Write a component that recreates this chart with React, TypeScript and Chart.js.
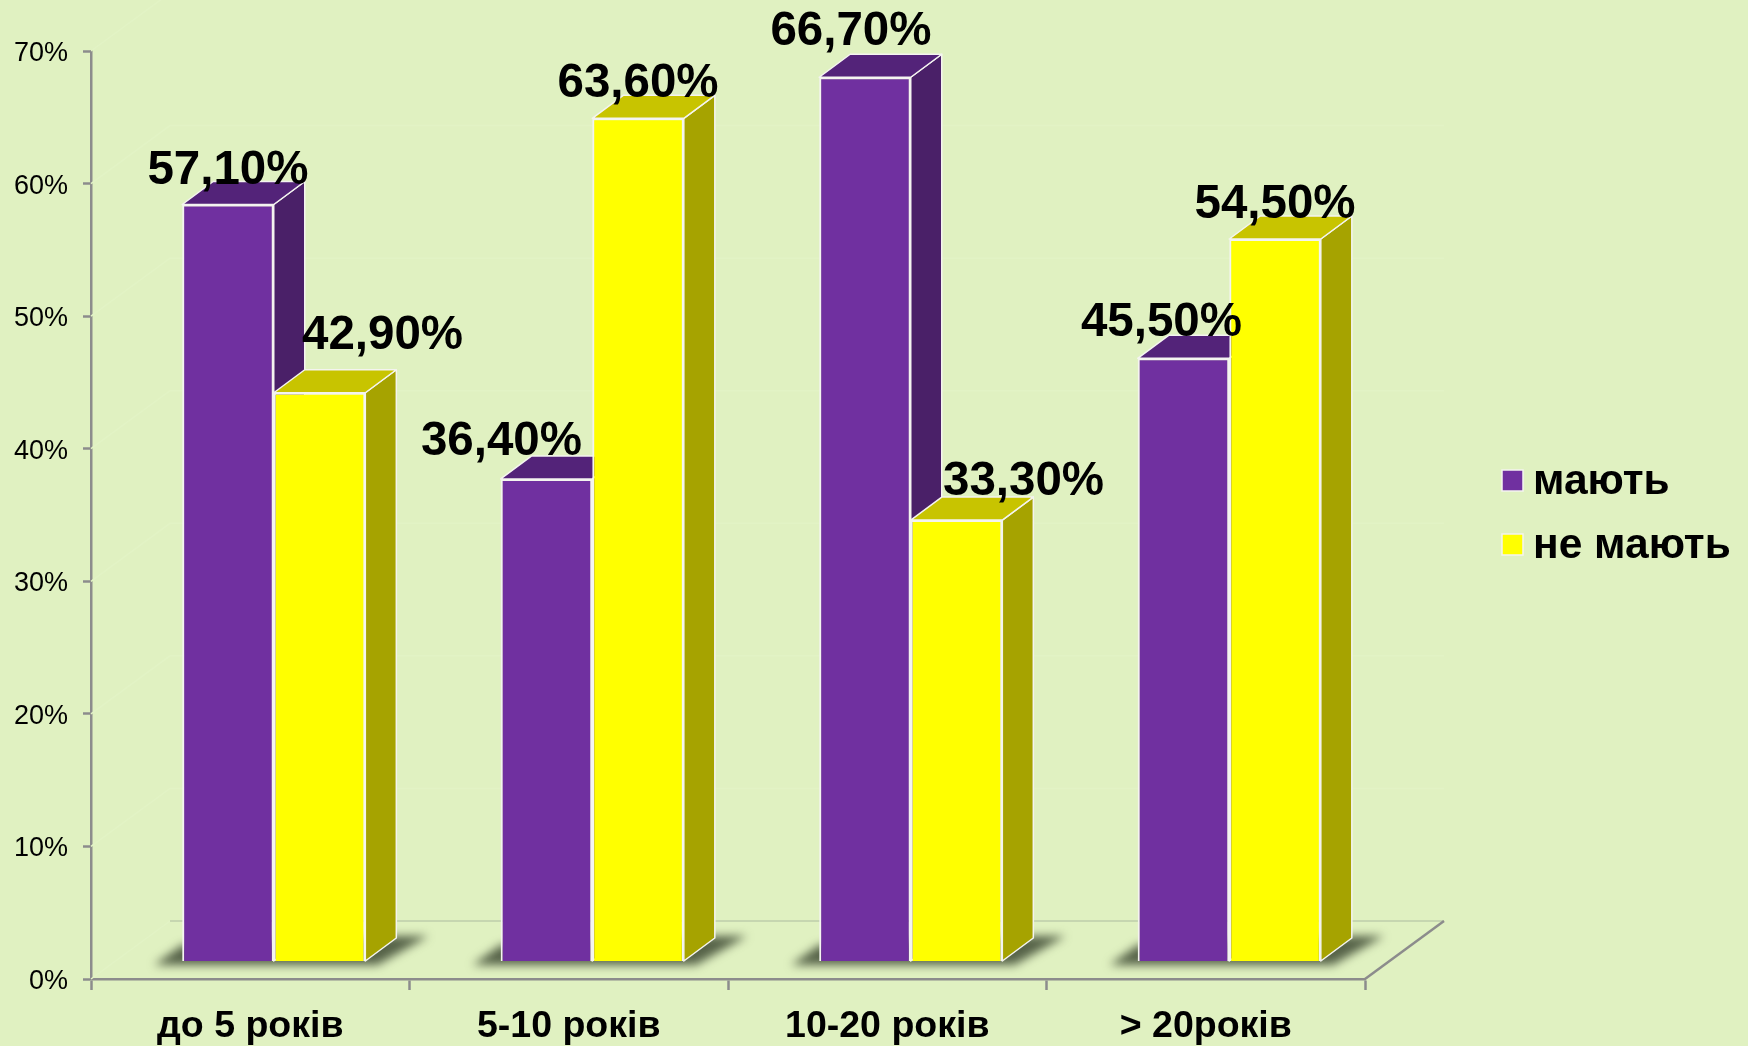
import React, { useEffect, useRef } from "react";
import { Chart, registerables } from "chart.js";

Chart.register(...registerables);

const categories = ["до 5 років", "5-10 років", "10-20 років", "> 20років"];
const seriesNames = ["мають", "не мають"];
const haveValues = [57.1, 36.4, 66.7, 45.5];
const haveNotValues = [42.9, 63.6, 33.3, 54.5];

const FONT = '"Liberation Sans", Arial, sans-serif';
const BG = "#e0f1c1";
const AXIS = "#8c8c8c";
const EDGE = "#f4f4f0";
const FRONT = ["#7030a0", "#ffff00"];
const TOP = ["#532379", "#c8c400"];
const SIDE = ["#4a2068", "#a6a300"];

// projection of the pseudo-3D box
const SHIFT_X = 23.5;
const SHIFT_Y = -17.5;
const DEPTH_X = 31;
const DEPTH_Y = -23;
const FLOOR_X = 79;
const FLOOR_Y = -58;

// hand-placed value label offsets in the source chart [dx from bar centre, dy from bar top]
const labelOffsets = [
  [[0, -21], [-45, -24], [-14, -32], [-22, -22]],
  [[63, -44], [0, -21], [67, -25], [0, -21]],
];

const pseudo3d = {
  id: "pseudo3d",
  beforeDatasetsDraw(chart: any) {
    const { ctx, chartArea: a, scales } = chart;
    ctx.save();

    // walls: faint grid
    ctx.strokeStyle = "#e2f3c5";
    ctx.lineWidth = 1.5;
    scales.y.ticks.forEach((t: any) => {
      const y = scales.y.getPixelForValue(t.value);
      ctx.beginPath();
      ctx.moveTo(a.left, y);
      ctx.lineTo(a.left + FLOOR_X, y + FLOOR_Y);
      if (t.value > 0) ctx.lineTo(a.right + FLOOR_X, y + FLOOR_Y);
      ctx.stroke();
    });

    // floor
    ctx.strokeStyle = "#c6d6b0";
    ctx.lineWidth = 2;
    ctx.beginPath();
    ctx.moveTo(a.left + FLOOR_X, a.bottom + FLOOR_Y);
    ctx.lineTo(a.right + FLOOR_X, a.bottom + FLOOR_Y);
    ctx.stroke();
    ctx.strokeStyle = AXIS;
    ctx.lineWidth = 2.5;
    ctx.beginPath();
    ctx.moveTo(a.right, a.bottom);
    ctx.lineTo(a.right + FLOOR_X, a.bottom + FLOOR_Y);
    ctx.stroke();

    ctx.translate(SHIFT_X, SHIFT_Y);

    // floor shadows
    const m0 = chart.getDatasetMeta(0).data;
    const m1 = chart.getDatasetMeta(1).data;
    m0.forEach((b0: any, i: number) => {
      const b1 = m1[i];
      const l = b0.x - b0.width / 2;
      const r = b1.x + b1.width / 2;
      const y = b0.base;
      ctx.save();
      ctx.filter = "blur(5px)";
      ctx.fillStyle = "rgba(62,74,52,0.85)";
      ctx.beginPath();
      ctx.moveTo(l - 28, y + 4);
      ctx.lineTo(l, y - 16);
      ctx.lineTo(r + DEPTH_X, y + DEPTH_Y - 2);
      ctx.lineTo(r + DEPTH_X + 32, y + DEPTH_Y - 2);
      ctx.lineTo(r + 12, y + 4);
      ctx.closePath();
      ctx.fill();
      ctx.restore();
    });

    // sides and tops, back to front
    [m0, m1].forEach((meta: any[], d: number) => {
      meta.forEach((b: any) => {
        const l = b.x - b.width / 2;
        const r = b.x + b.width / 2;
        ctx.lineWidth = 1.5;
        ctx.strokeStyle = EDGE;
        ctx.lineJoin = "round";
        ctx.fillStyle = SIDE[d];
        ctx.beginPath();
        ctx.moveTo(r, b.y);
        ctx.lineTo(r + DEPTH_X, b.y + DEPTH_Y);
        ctx.lineTo(r + DEPTH_X, b.base + DEPTH_Y);
        ctx.lineTo(r, b.base);
        ctx.closePath();
        ctx.fill();
        ctx.stroke();
        ctx.fillStyle = TOP[d];
        ctx.beginPath();
        ctx.moveTo(l, b.y);
        ctx.lineTo(l + DEPTH_X, b.y + DEPTH_Y);
        ctx.lineTo(r + DEPTH_X, b.y + DEPTH_Y);
        ctx.lineTo(r, b.y);
        ctx.closePath();
        ctx.fill();
        ctx.stroke();
      });
    });
  },
  afterDatasetsDraw(chart: any) {
    const { ctx } = chart;
    ctx.restore();
    ctx.save();

    // value labels
    ctx.fillStyle = "#000";
    ctx.font = `bold 47.5px ${FONT}`;
    ctx.textAlign = "center";
    ctx.textBaseline = "alphabetic";
    chart.data.datasets.forEach((ds: any, d: number) => {
      chart.getDatasetMeta(d).data.forEach((b: any, i: number) => {
        const text = ds.data[i].toFixed(2).replace(".", ",") + "%";
        const [ox, oy] = labelOffsets[d][i];
        ctx.fillText(text, b.x + SHIFT_X + ox, b.y + SHIFT_Y + oy);
      });
    });

    // legend
    const legendRows = [481, 545];
    ctx.textAlign = "left";
    ctx.textBaseline = "middle";
    ctx.font = `bold 42.5px ${FONT}`;
    chart.data.datasets.forEach((ds: any, d: number) => {
      const y = legendRows[d];
      ctx.fillStyle = FRONT[d];
      ctx.strokeStyle = "#f4f4f0";
      ctx.lineWidth = 1.5;
      ctx.fillRect(1502, y - 11, 21, 21);
      ctx.strokeRect(1502, y - 11, 21, 21);
      ctx.fillStyle = "#000";
      ctx.fillText(ds.label, 1533, y + 1);
    });
    ctx.restore();
  },
};

export default function App() {
  const ref = useRef<HTMLCanvasElement>(null);
  useEffect(() => {
    const chart = new Chart(ref.current as HTMLCanvasElement, {
      type: "bar",
      data: {
        labels: categories,
        datasets: [
          { label: seriesNames[0], data: haveValues, backgroundColor: FRONT[0] },
          { label: seriesNames[1], data: haveNotValues, backgroundColor: FRONT[1] },
        ],
      },
      options: {
        responsive: false,
        animation: false,
        layout: { autoPadding: false, padding: { top: 51, right: 383, left: 0, bottom: 0 } },
        datasets: {
          bar: {
            categoryPercentage: 0.575,
            barPercentage: 1,
            borderColor: EDGE,
            borderWidth: 2,
            clip: false,
          },
        },
        plugins: { legend: { display: false }, tooltip: { enabled: false } },
        scales: {
          x: {
            afterFit: (s: any) => { s.height = 67; },
            grid: { drawOnChartArea: false, drawTicks: true, tickLength: 11, tickColor: AXIS, tickWidth: 2.5, offset: true },
            border: { color: AXIS, width: 2.5 },
            ticks: {
              color: "#000",
              autoSkip: false,
              maxRotation: 0,
              padding: 14,
              font: { family: FONT, size: 37.5, weight: "bold" },
            },
          },
          y: {
            min: 0,
            max: 70,
            afterFit: (s: any) => { s.width = 91; },
            grid: { drawOnChartArea: false, drawTicks: true, tickLength: 8, tickColor: AXIS, tickWidth: 2.5 },
            border: { color: AXIS, width: 2.5 },
            ticks: {
              stepSize: 10,
              color: "#000",
              padding: 15,
              labelOffset: 2.5,
              font: { family: FONT, size: 27 },
              callback: (v: any) => `${v}%`,
            },
          },
        },
      },
      plugins: [pseudo3d],
    } as any);
    return () => chart.destroy();
  }, []);
  return (
    <div style={{ position: "absolute", left: 0, top: 0, width: 1748, height: 1046, background: BG, overflow: "hidden" }}>
      <canvas ref={ref} width={1748} height={1046} style={{ display: "block" }} />
    </div>
  );
}
